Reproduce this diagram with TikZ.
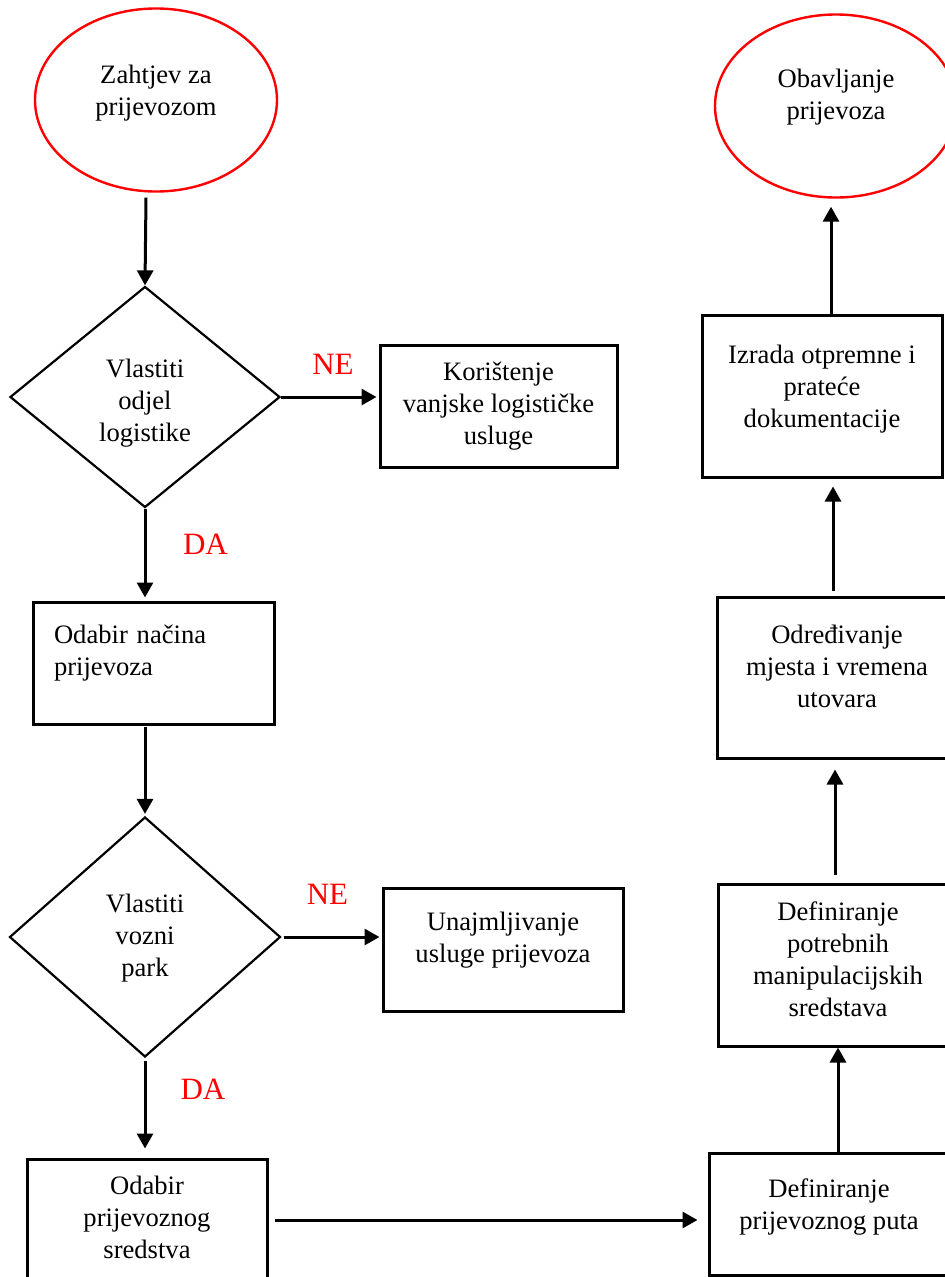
\documentclass[tikz,border=0pt]{standalone}
\usepackage{fontspec}
\setmainfont{Liberation Serif}
\usetikzlibrary{arrows.meta,shapes.geometric}

\begin{document}
\begin{tikzpicture}[x=1pt,y=-1pt,
    every node/.style={font=\fontsize{26.6}{32}\selectfont},
    krug/.style={ellipse,draw=red,line width=2.4pt,minimum width=242pt,minimum height=183pt,align=center,text depth=6pt},
    romb/.style={diamond,draw,line width=2.2pt,inner sep=0pt,minimum width=270pt,align=center,text depth=6pt},
    okvir/.style={rectangle,draw,line width=3pt,minimum width=240pt,minimum height=122pt,align=center,text depth=6pt},
    oznaka/.style={text=red,font=\fontsize{31}{36}\selectfont},
    strelica/.style={-{Triangle[length=15pt,width=16pt]},line width=3pt}]
        \useasboundingbox (0,0) rectangle (945,1277);
        % lijevi stupac
        \node[krug,text height=36pt] (zahtjev) at (156,100) {Zahtjev za\\prijevozom};
        \node[romb,minimum height=221pt,text height=94pt] (odjel) at (145,397) {Vlastiti\\odjel\\logistike};
        \node[okvir,minimum width=237pt,text height=82pt] (vanjska) at (498.5,406) {Korištenje\\vanjske logističke\\usluge};
        \node[okvir,minimum width=241pt,text width=199pt,align=left,inner xsep=0pt,text height=6pt,text depth=46pt] (nacin) at (153.5,663) {Odabir načina\\prijevoza};
        \node[romb,minimum width=271pt,minimum height=240pt,text height=84pt] (park) at (145,937) {Vlastiti\\vozni\\park};
        \node[okvir,minimum height=123pt,text height=31pt] (najam) at (503,949.5) {Unajmljivanje\\usluge prijevoza};
        \node[okvir,text height=82pt] (sredstvo) at (147,1220) {Odabir\\prijevoznog\\sredstva};
        % desni stupac
        \node[okvir,text height=35pt] (put) at (829,1214.5) {Definiranje\\prijevoznog puta};
        \node[okvir,minimum height=162pt,text height=108pt] (manipulacija) at (838,965) {Definiranje\\potrebnih\\manipulacijskih\\sredstava};
        \node[okvir,minimum height=161pt,text height=65pt] (utovar) at (837,677.5) {Određivanje\\mjesta i vremena\\utovara};
        \node[okvir,minimum height=162pt,text height=68pt] (dokumentacija) at (822,396) {Izrada otpremne i\\prateće\\dokumentacije};
        \node[krug,text height=32pt] (obavljanje) at (836,106) {Obavljanje\\prijevoza};
        % oznake
        \node[oznaka] (ne1) at (333,364) {NE};
        \node[oznaka] (da1) at (205.5,544) {DA};
        \node[oznaka] (ne2) at (327.5,894) {NE};
        \node[oznaka] (da2) at (203,1089) {DA};
        % strelice
        \draw[strelica] ([xshift=-10pt,yshift=-5pt]zahtjev.south) -- (odjel.north);
        \draw[strelica,shorten >=2pt] (odjel.east) -- (odjel.east -| vanjska.west);
        \draw[strelica,shorten >=3pt] (odjel.south) -- (odjel.south |- nacin.north);
        \draw[strelica,shorten <=1pt,shorten >=2pt] (park.north |- nacin.south) -- (park.north);
        \draw[strelica,shorten <=2pt,shorten >=2pt] (park.east) -- (park.east -| najam.west);
        \draw[strelica,shorten <=3pt,shorten >=9pt] (park.south) -- (park.south |- sredstvo.north);
        \draw[strelica,shorten <=6pt,shorten >=10pt] (sredstvo.east) -- (sredstvo.east -| put.west);
        \draw[strelica] (manipulacija.south |- put.north) -- (manipulacija.south);
        \draw[strelica,shorten <=8pt,shorten >=10pt] ([xshift=-3pt]manipulacija.north) -- ([xshift=-2pt]utovar.south);
        \draw[strelica,shorten <=5pt,shorten >=8pt] ([xshift=-4pt]utovar.north) -- ([xshift=11pt]dokumentacija.south);
        \draw[strelica,shorten >=8pt] ([xshift=9pt]dokumentacija.north) -- ([xshift=-5pt]obavljanje.south);
\end{tikzpicture}
\end{document}
